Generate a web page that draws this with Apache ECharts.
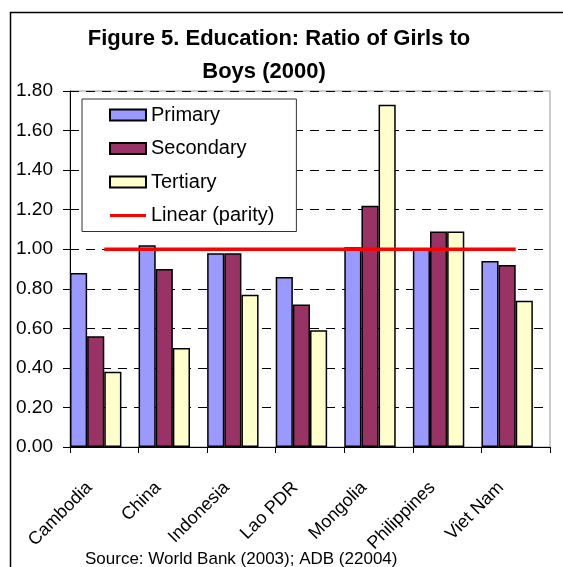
<!DOCTYPE html>
<html>
<head>
<meta charset="utf-8">
<script src="https://cdn.jsdelivr.net/npm/echarts@6/dist/echarts.min.js"></script>
<style>
  html, body { margin: 0; padding: 0; background: #fff; }
  #chart { width: 563px; height: 567px; }
</style>
</head>
<body>
<div id="chart"></div>
<script>
// ratio of girls to boys
var countries = ['Cambodia', 'China', 'Indonesia', 'Lao PDR', 'Mongolia', 'Philippines', 'Viet Nam']
var primary = [0.88, 1.02, 0.98, 0.86, 1.01, 1.00, 0.94]
var secondary = [0.56, 0.90, 0.98, 0.72, 1.22, 1.09, 0.92]
var tertiary = [0.38, 0.50, 0.77, 0.59, 1.73, 1.09, 0.74]
var parity = [1, 1, 1, 1, 1, 1, 1]
var yTicks = [0, 0.2, 0.4, 0.6, 0.8, 1.0, 1.2, 1.4, 1.6, 1.8]

var font = 'Liberation Sans, Arial, sans-serif'
var myChart = echarts.init(document.getElementById('chart'))

function barSeries (name, data, color) {
  return {
    name: name,
    type: 'bar',
    data: data,
    barGap: '0%',
    barCategoryGap: '0%',
    itemStyle: { color: color, borderColor: '#000', borderWidth: 1.5 },
    animation: false
  }
}

var option = {
  backgroundColor: '#fff',
  textStyle: { fontFamily: font },
  title: [
    {
      text: 'Figure 5. Education: Ratio of Girls to',
      left: 274, top: 23, textAlign: 'center',
      textStyle: { fontSize: 22, fontWeight: 'bold', color: '#000', fontFamily: font }
    },
    {
      text: 'Boys (2000)',
      left: 259, top: 56, textAlign: 'center',
      textStyle: { fontSize: 22, fontWeight: 'bold', color: '#000', fontFamily: font }
    },
    {
      text: 'Source: World Bank (2003); ADB (22004)',
      left: 80, top: 546,
      textStyle: { fontSize: 17, fontWeight: 'normal', color: '#000', fontFamily: font }
    }
  ],
  legend: {
    orient: 'vertical',
    left: 82, top: 99,
    padding: [6, 22, 6, 27],
    itemGap: 13.5,
    itemWidth: 36, itemHeight: 11,
    backgroundColor: '#fff',
    borderColor: '#333', borderWidth: 1,
    textStyle: { fontSize: 20, lineHeight: 20, color: '#000', fontFamily: font },
    data: [
      { name: 'Primary', icon: 'rect' },
      { name: 'Secondary', icon: 'rect' },
      { name: 'Tertiary', icon: 'rect' },
      {
        name: 'Linear (parity)',
        icon: 'path://M0,4 L36,4 L36,7 L0,7 Z M0,0 L0.05,0 L0,0.05 Z M0,11 L0.05,11 L0,10.95 Z',
        itemStyle: { color: '#ff0000', borderWidth: 0 }
      }
    ]
  },
  grid: {
    left: 70, right: 13, top: 91, bottom: 120,
    show: true, borderColor: '#999', borderWidth: 1
  },
  xAxis: {
    type: 'category',
    data: countries,
    axisLine: { lineStyle: { color: '#000', width: 1 } },
    axisTick: { show: true, length: 6, lineStyle: { color: '#000' } },
    axisLabel: {
      rotate: 45, interval: 0, margin: 23, padding: [0, 21, 0, 0],
      fontSize: 18, color: '#000', fontFamily: font
    }
  },
  yAxis: {
    type: 'value',
    min: yTicks[0],
    max: yTicks[yTicks.length - 1],
    interval: 0.2,
    axisLine: { show: true, lineStyle: { color: '#000', width: 1 } },
    axisTick: { show: true, length: 7, lineStyle: { color: '#000' } },
    axisLabel: {
      margin: 17, fontSize: 19, color: '#000', fontFamily: font,
      formatter: function (v) { return v.toFixed(2) }
    },
    splitLine: { show: true, lineStyle: { color: '#000', type: [9, 7], width: 1 } }
  },
  graphic: [
    {
      type: 'rect',
      shape: { x: 10.5, y: 12.5, width: 600, height: 600 },
      style: { fill: null, stroke: '#000', lineWidth: 1.5 },
      silent: true
    }
  ],
  series: [
    barSeries('Primary', primary, '#9999ff'),
    barSeries('Secondary', secondary, '#993366'),
    barSeries('Tertiary', tertiary, '#ffffcc'),
    // empty slot: Excel leaves the gap on the right of each group
    barSeries('gap', [], 'transparent'),
    {
      name: 'Linear (parity)',
      type: 'line',
      data: parity,
      showSymbol: false,
      symbol: 'none',
      z: 5,
      lineStyle: { color: '#ff0000', width: 3.5 },
      itemStyle: { color: '#ff0000' },
      animation: false
    }
  ]
}

option && myChart.setOption(option)
window.addEventListener('resize', () => { myChart.resize() })
</script>
</body>
</html>
